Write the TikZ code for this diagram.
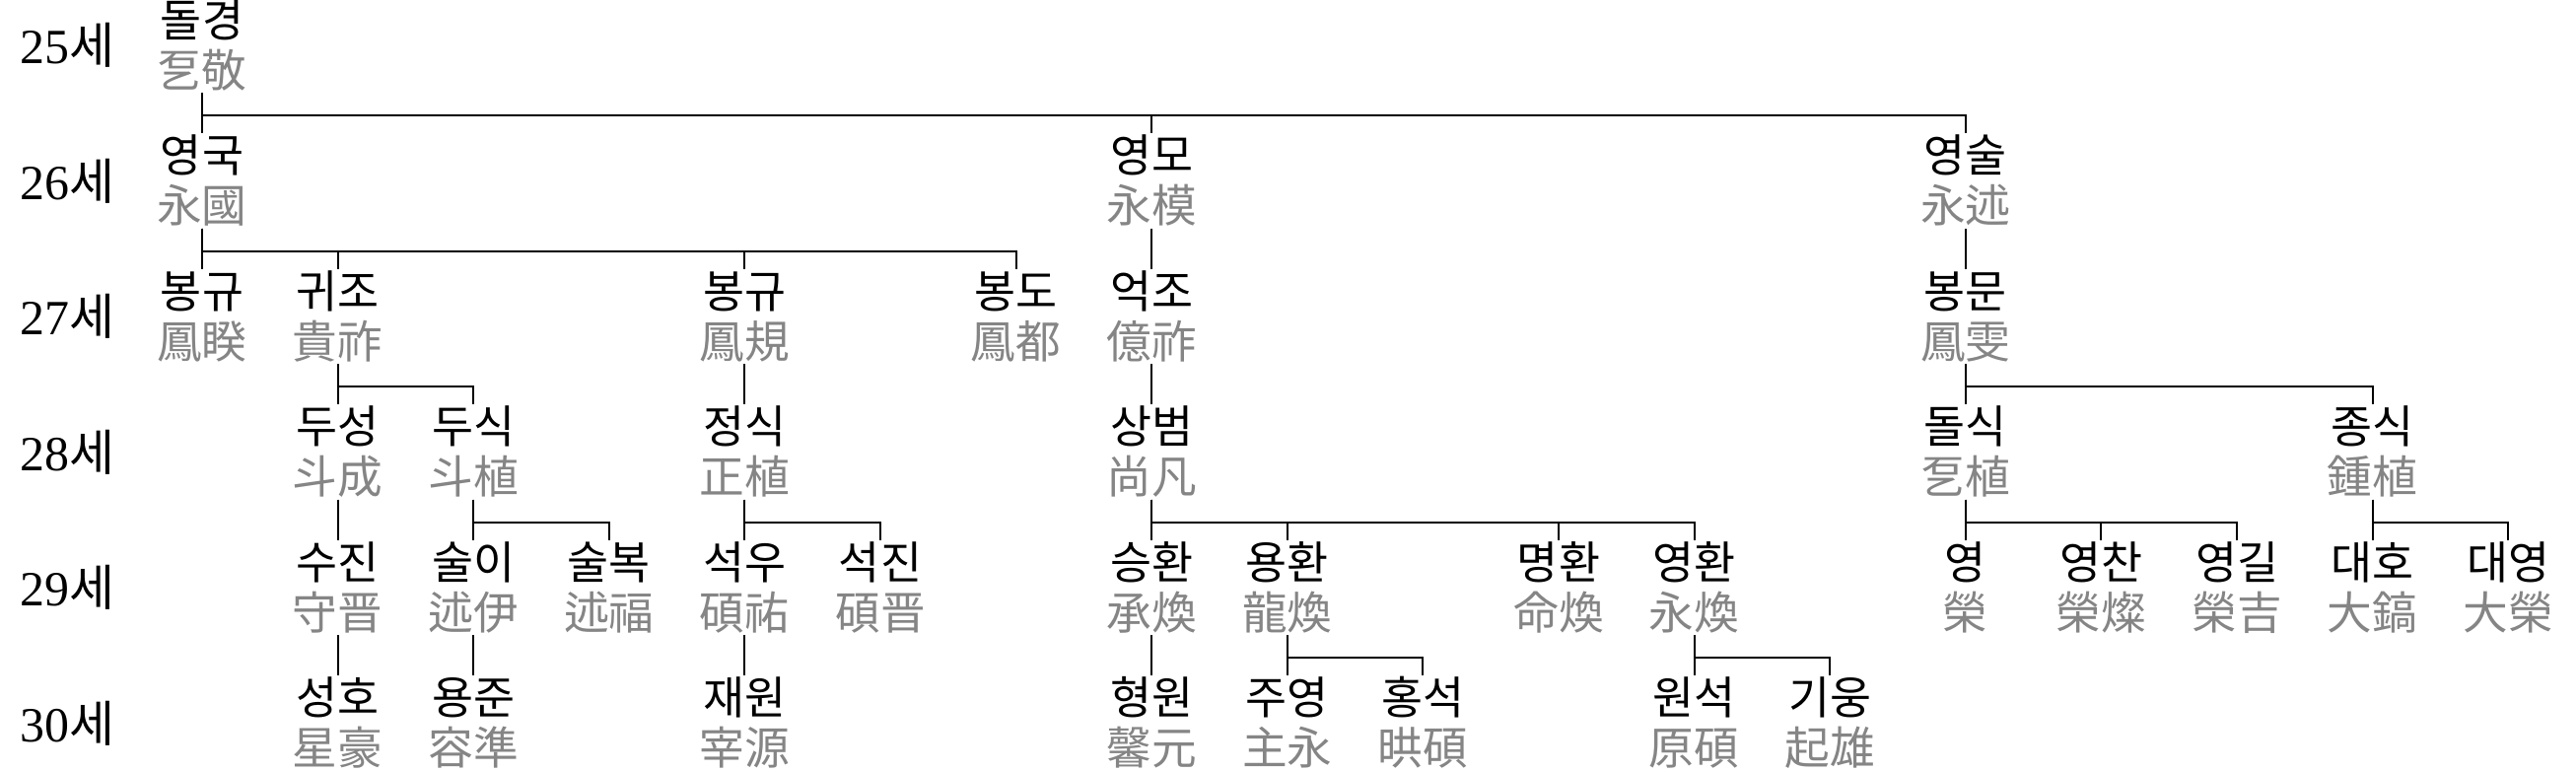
\documentclass[tikz,border=0pt]{standalone}
\usepackage{fontspec}
\setmainfont{Liberation Serif}
\newfontfamily\krfont{Noto Sans CJK KR}
\usepackage{xcolor}
\usetikzlibrary{positioning}
\definecolor{Ink}{HTML}{000000}
\definecolor{Hanja}{HTML}{858585}

\begin{document}
\begin{tikzpicture}[
  x=1.376cm, y=-1.375cm,
  gen/.style={anchor=west,inner sep=0,font=\fontsize{14.2pt}{14.2pt}\selectfont},
  person/.style={inner sep=0,text height=0.39cm,text depth=0.046cm,
    font=\krfont\fontsize{13pt}{13pt}\selectfont},
  hanja/.style={person,text=Hanja,text height=0.45cm,text depth=0.052cm},
  descent/.style={line width=0.6pt,color=Ink}
]
\useasboundingbox (-2.05cm,0.20cm) rectangle (24.08cm,-7.61cm);

% Generations.
\foreach \g [count=\r from 0] in {25,...,30}
  \node[gen] (gen\g) at (-1.345,\r+0.19) {\g{\krfont 세}};

% People, one column per slot.
\foreach \id/\k/\r/\ko/\hj in {
    dolgyeong/0/0/돌경/乭敬,
    yeongguk/0/1/영국/永國, yeongmo/7/1/영모/永模, yeongsul/13/1/영술/永述,
    bonggyu/0/2/봉규/鳳睽, gwijo/1/2/귀조/貴祚, bonggyub/4/2/봉규/鳳規,
    bongdo/6/2/봉도/鳳都, eokjo/7/2/억조/億祚, bongmun/13/2/봉문/鳳雯,
    duseong/1/3/두성/斗成, dusik/2/3/두식/斗植, jeongsik/4/3/정식/正植,
    sangbeom/7/3/상범/尚凡, dolsik/13/3/돌식/乭植, jongsik/16/3/종식/鍾植,
    sujin/1/4/수진/守晋, suli/2/4/술이/述伊, sulbok/3/4/술복/述福,
    seogu/4/4/석우/碩祐, seokjin/5/4/석진/碩晋, seunghwan/7/4/승환/承煥,
    yonghwan/8/4/용환/龍煥, myeonghwan/10/4/명환/命煥, yeonghwan/11/4/영환/永煥,
    yeong/13/4/영/榮, yeongchan/14/4/영찬/榮燦, yeonggil/15/4/영길/榮吉,
    daeho/16/4/대호/大鎬, daeyeong/17/4/대영/大榮,
    seongho/1/5/성호/星豪, yongjun/2/5/용준/容準, jaewon/4/5/재원/宰源,
    hyeongwon/7/5/형원/馨元, juyeong/8/5/주영/主永, hongseok/9/5/홍석/晎碩,
    wonseok/11/5/원석/原碩, giung/12/5/기웅/起雄}
{
  \node[person] (\id) at (\k,\r) {\ko};
  \node[hanja,below=0pt of \id] (\id-h) {\hj};
}

% Lines of descent.
\foreach \p/\c in {
    dolgyeong/yeongguk, dolgyeong/yeongmo, dolgyeong/yeongsul,
    yeongguk/bonggyu, yeongguk/gwijo, yeongguk/bonggyub, yeongguk/bongdo,
    yeongmo/eokjo, yeongsul/bongmun,
    gwijo/duseong, gwijo/dusik, bonggyub/jeongsik, eokjo/sangbeom,
    bongmun/dolsik, bongmun/jongsik,
    duseong/sujin, dusik/suli, dusik/sulbok, jeongsik/seogu, jeongsik/seokjin,
    sangbeom/seunghwan, sangbeom/yonghwan, sangbeom/myeonghwan,
    sangbeom/yeonghwan, dolsik/yeong, dolsik/yeongchan, dolsik/yeonggil,
    jongsik/daeho, jongsik/daeyeong,
    sujin/seongho, suli/yongjun, seogu/jaewon, seunghwan/hyeongwon,
    yonghwan/juyeong, yonghwan/hongseok, yeonghwan/wonseok, yeonghwan/giung}
  \draw[descent] (\p-h.south) -- ++(0,-0.23cm) -| (\c.north);
\end{tikzpicture}
\end{document}
